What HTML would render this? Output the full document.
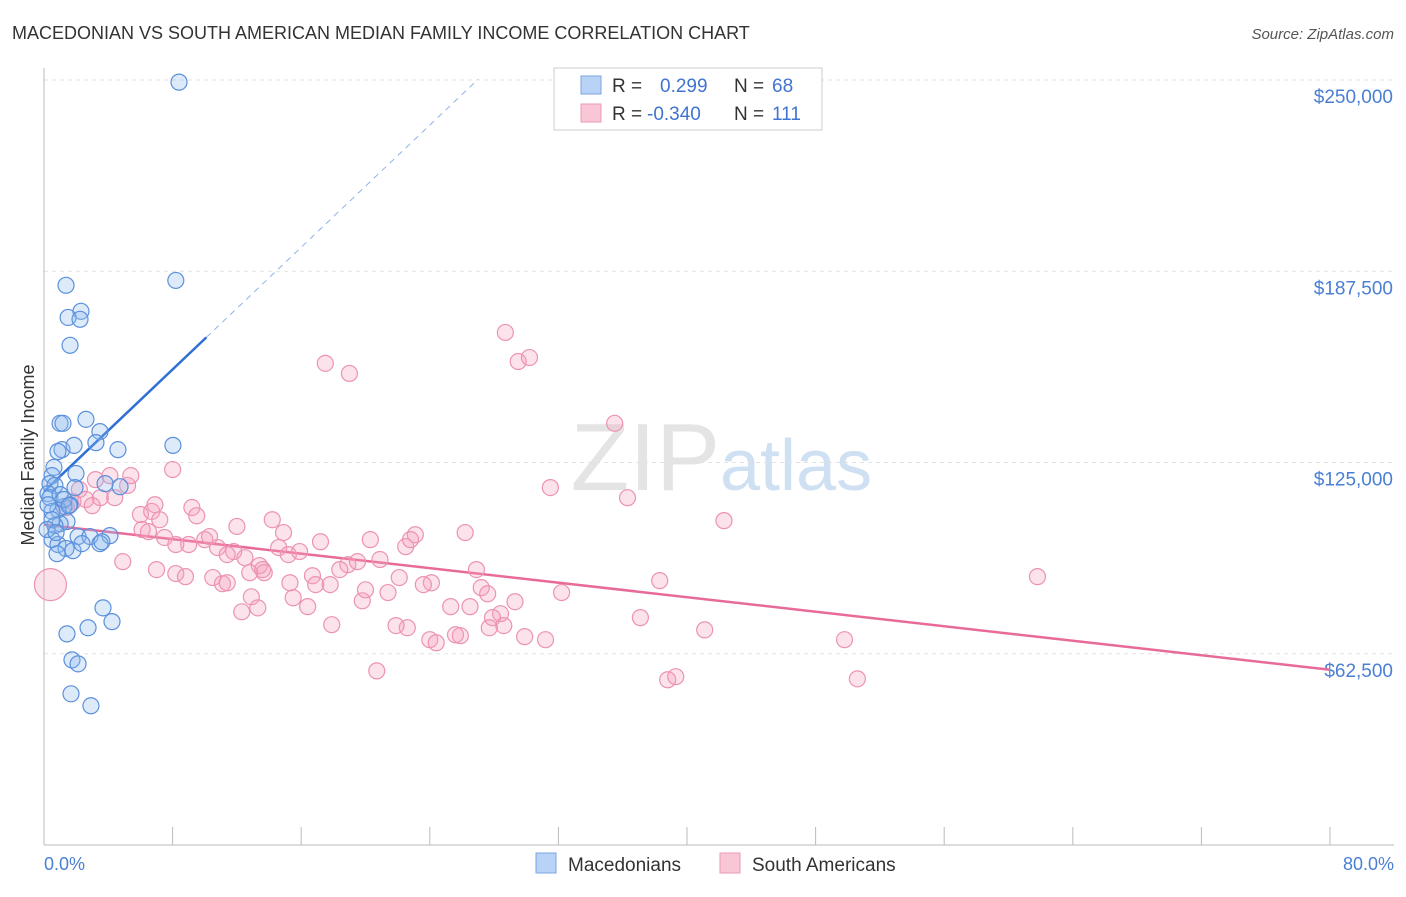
<!DOCTYPE html>
<html><head><meta charset="utf-8"><style>
body{margin:0;background:#fff;font-family:"Liberation Sans",sans-serif;}
svg text{font-family:"Liberation Sans",sans-serif;}
</style></head><body>
<svg id="chart" width="1406" height="892" xmlns="http://www.w3.org/2000/svg">
<text x="12" y="39" font-size="18" fill="#333">MACEDONIAN VS SOUTH AMERICAN MEDIAN FAMILY INCOME CORRELATION CHART</text>
<text x="1394" y="39" font-size="15" fill="#555" font-style="italic" text-anchor="end">Source: ZipAtlas.com</text>
<text x="720" y="490" font-size="96" fill="#e4e4e4" text-anchor="end" font-family="Liberation Serif">ZIP</text>
<text x="720" y="490" font-size="72" fill="#cfe0f3">atlas</text>
<g id="grid"></g><g id="axes"></g><g id="trends"></g><g id="points"></g>
<text transform="translate(34,455) rotate(-90)" font-size="18" fill="#333" text-anchor="middle">Median Family Income</text>
<text x="44" y="870" font-size="18" fill="#4a7fd4">0.0%</text>
<text x="1394" y="870" font-size="18" fill="#4a7fd4" text-anchor="end">80.0%</text>
<g>
<rect x="554" y="68" width="268" height="62" fill="#fff" stroke="#ccc"/>
<rect x="581" y="76" width="20" height="18" fill="#b8d3f5" stroke="#7aa6e0"/>
<rect x="581" y="104" width="20" height="18" fill="#f9c6d6" stroke="#eb9ab5"/>
<text x="612" y="92" font-size="19" fill="#333">R = </text><text x="660" y="92" font-size="19" fill="#3f74d0">0.299</text>
<text x="734" y="92" font-size="19" fill="#333">N = </text><text x="772" y="92" font-size="19" fill="#3f74d0">68</text>
<text x="612" y="120" font-size="19" fill="#333">R = </text><text x="647" y="120" font-size="19" fill="#3f74d0">-0.340</text>
<text x="734" y="120" font-size="19" fill="#333">N = </text><text x="772" y="120" font-size="19" fill="#3f74d0">111</text>
</g>
<g>
<rect x="536" y="853" width="20" height="20" fill="#b8d3f5" stroke="#7aa6e0"/>
<text x="568" y="871" font-size="19" fill="#333">Macedonians</text>
<rect x="720" y="853" width="20" height="20" fill="#f9c6d6" stroke="#eb9ab5"/>
<text x="752" y="871" font-size="19" fill="#333">South Americans</text>
</g>
</svg>
<script>
const yTicks=[62500,125000,187500,250000];
const yTickLabels=["$62,500","$125,000","$187,500","$250,000"];
const xTicks=[0,8,16,24,32,40,48,56,64,72,80];
const blueX=[8.4,8.2,1.37,2.3,1.5,2.24,1.62,8.02,2.61,1.0,1.18,3.48,3.23,4.6,1.12,0.87,1.87,0.62,1.99,0.5,0.37,0.68,4.73,1.93,3.8,0.25,0.37,1.62,1.24,0.87,0.5,1.43,1.0,0.68,2.12,2.86,4.1,0.5,0.87,1.37,1.8,2.36,3.48,0.81,3.67,2.74,4.23,1.43,1.74,2.12,1.68,2.92,0.5,0.25,1.0,1.24,3.6,0.19,0.75,1.56];
const blueY=[249.3,184.5,182.9,174.4,172.4,171.8,163.3,130.6,139.1,137.8,137.8,135.1,131.5,129.2,129.2,128.6,130.6,123.4,121.4,120.7,118.1,117.5,117.1,116.8,118.1,114.8,113.5,111.2,110.6,109.6,109.0,105.7,105.0,104.4,100.8,100.8,101.1,99.8,98.2,96.9,96.2,98.5,98.5,95.2,77.5,71.0,73.0,69.0,60.5,59.2,49.4,45.5,106.3,111.2,114.5,112.9,99.1,103.1,102.1,110.9];
const pinkX=[28.7,17.5,19.0,29.5,30.2,35.5,8.0,31.5,36.3,42.3,26.2,61.8,38.3,32.2,37.1,41.1,49.8,50.6,38.8,39.3,20.7,1.4,2.2,3.2,4.1,5.2,3.5,4.4,1.8,2.6,6.0,6.7,7.2,9.2,9.5,6.1,6.5,7.5,9.0,10.0,10.8,11.8,12.0,14.2,12.5,13.4,14.6,15.2,15.9,17.2,16.7,17.8,18.9,20.3,19.5,20.9,22.5,23.1,22.8,22.1,24.1,23.6,26.9,27.2,27.6,29.3,28.4,27.9,28.6,27.7,22.6,21.9,25.3,26.5,25.9,24.0,24.4,25.6,29.9,31.2,4.9,7.0,8.2,8.8,10.5,11.1,11.4,12.9,12.3,13.3,15.5,16.4,17.9,19.8,20.0,13.7,18.4,15.3,8.2,10.3,11.4,12.8,13.6,16.9,21.4,14.9,6.9,5.4,3.0,0.4];
const pinkY=[167.5,157.4,154.1,158.0,159.3,137.8,122.7,116.8,113.5,106.0,102.1,87.7,86.4,82.5,74.3,70.3,67.1,54.3,54.0,55.0,56.9,110.3,116.2,119.4,120.7,117.5,113.5,113.5,112.2,112.9,108.0,109.0,106.3,110.3,107.6,103.1,102.4,100.5,98.2,99.8,97.2,95.9,104.1,106.3,93.9,91.3,97.2,94.9,95.9,99.1,88.0,85.1,91.6,99.8,92.6,93.3,97.5,101.4,99.8,87.4,85.7,85.1,90.0,84.1,82.1,79.5,75.6,74.3,71.7,71.0,71.0,71.7,77.9,77.9,68.4,67.1,66.1,68.7,68.1,67.1,92.6,90.0,88.7,87.7,87.4,85.4,85.7,81.1,76.2,77.5,80.8,77.9,72.0,79.8,83.4,89.0,90.0,85.7,98.2,100.8,94.9,89.0,90.0,85.1,82.5,102.1,111.2,120.7,110.9,85.1];
const blueTrend=[115.5,4.99]; // intercept (k$), slope per %
const pinkTrend=[104.7,-0.593];
const X0=44,X1=1330,Y0=845,Ytop=80;
const sx=p=>X0+p*(X1-X0)/80;
const sy=v=>Y0-v*(Y0-Ytop)/250000;
const NS="http://www.w3.org/2000/svg";
function mk(tag,attrs,parent){const e=document.createElementNS(NS,tag);for(const k in attrs)e.setAttribute(k,attrs[k]);document.getElementById(parent).appendChild(e);return e;}
yTicks.forEach((t,i)=>{
 const l=mk('line',{x1:X0,x2:1394,y1:sy(t),y2:sy(t),stroke:'#e2e2e2','stroke-dasharray':'4,4'},'grid');
 
 
 const tx=mk('text',{x:1393,y:sy(t)+23,'font-size':19,fill:'#4a7fd4','text-anchor':'end'},'grid');
 tx.textContent=yTickLabels[i];
 
 
});
const ax=mk('line',{x1:X0,x2:X0,y1:68,y2:Y0,stroke:'#bbb'},'axes');


const bx=mk('line',{x1:X0,x2:1394,y1:Y0,y2:Y0,stroke:'#bbb'},'axes');


xTicks.forEach(t=>{
 const l=mk('line',{x1:sx(t),x2:sx(t),y1:827,y2:Y0,stroke:'#bbb'},'axes');
 
 
});
function trend(tr,a,b,color,dash,name){
 const l=mk('line',{x1:sx(a),y1:sy(tr[0]*1000+tr[1]*1000*a),x2:sx(b),y2:sy(tr[0]*1000+tr[1]*1000*b),stroke:color,'stroke-width':dash?1:2.5},'trends');
 if(dash)l.setAttribute('stroke-dasharray','6,5');
 
 
}
trend(blueTrend,0,10.1,'#2f6fd6',false,'macedonian-trend-line');
trend(blueTrend,10.1,27.0,'#8fb3e8',true,'macedonian-trend-extension');
trend(pinkTrend,0,80,'#e86a98',false,'south-american-trend-line');
pinkX.forEach((x,i)=>{
 const big=i===pinkX.length-1;
 const c=mk('circle',{cx:sx(x),cy:sy(pinkY[i]*1000),r:big?16:8,fill:'rgba(244,160,190,0.3)',stroke:'#ec93b3','stroke-width':1.2},'points');
 
 
});
blueX.forEach((x,i)=>{
 const c=mk('circle',{cx:sx(x),cy:sy(blueY[i]*1000),r:8,fill:'rgba(140,185,240,0.3)',stroke:'#5b90dc','stroke-width':1.2},'points');
 
 
});
</script>
</body></html>
